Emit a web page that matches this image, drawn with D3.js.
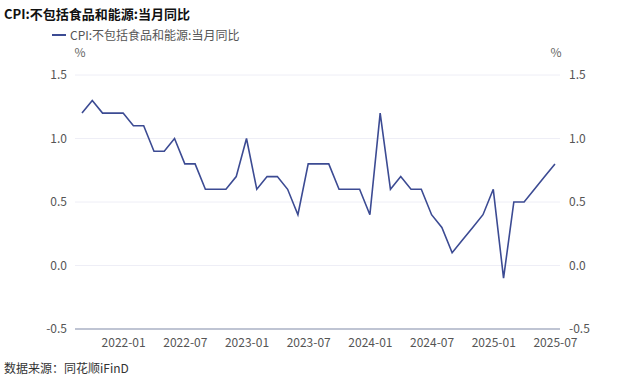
<!DOCTYPE html>
<html>
<head>
<meta charset="utf-8">
<script src="https://cdn.jsdelivr.net/npm/d3@7"></script>
<style>
  body { margin: 0; background: #fff; }
  text { font-family: "Noto Sans CJK SC", "Noto Sans", sans-serif; }
</style>
</head>
<body>
<div id="chart"></div>
<script>
const months = [
  '2021-09', '2021-10', '2021-11', '2021-12',
  '2022-01', '2022-02', '2022-03', '2022-04', '2022-05', '2022-06',
  '2022-07', '2022-08', '2022-09', '2022-10', '2022-11', '2022-12',
  '2023-01', '2023-02', '2023-03', '2023-04', '2023-05', '2023-06',
  '2023-07', '2023-08', '2023-09', '2023-10', '2023-11', '2023-12',
  '2024-01', '2024-02', '2024-03', '2024-04', '2024-05', '2024-06',
  '2024-07', '2024-08', '2024-09', '2024-10', '2024-11', '2024-12',
  '2025-01', '2025-02', '2025-03', '2025-04', '2025-05', '2025-06',
  '2025-07',
];
const values = [
  1.2, 1.3, 1.2, 1.2,
  1.2, 1.1, 1.1, 0.9, 0.9, 1.0,
  0.8, 0.8, 0.6, 0.6, 0.6, 0.7,
  1.0, 0.6, 0.7, 0.7, 0.6, 0.4,
  0.8, 0.8, 0.8, 0.6, 0.6, 0.6,
  0.4, 1.2, 0.6, 0.7, 0.6, 0.6,
  0.4, 0.3, 0.1, 0.2, 0.3, 0.4,
  0.6, -0.1, 0.5, 0.5, 0.6, 0.7,
  0.8,
];
const xTickLabels = ['2022-01', '2022-07', '2023-01', '2023-07', '2024-01', '2024-07', '2025-01', '2025-07'];
const yTicks = [-0.5, 0, 0.5, 1.0, 1.5];
const seriesName = 'CPI:不包括食品和能源:当月同比';

const width = 640;
const height = 387;
const plot = { left: 75, right: 560, top: 75, bottom: 329 };

const svg = d3.select('#chart').append('svg')
  .attr('width', width)
  .attr('height', height);

// month index scale, a little room before the first month and after the last
const x = d3.scaleLinear()
  .domain([-0.68, months.length - 1 + 0.49])
  .range([plot.left, plot.right]);

const y = d3.scaleLinear()
  .domain([-0.5, 1.5])
  .range([plot.bottom, plot.top]);

// gridlines
svg.append('g').selectAll('line')
  .data(yTicks.filter(d => d !== -0.5))
  .enter().append('line')
    .attr('x1', plot.left)
    .attr('x2', plot.right)
    .attr('y1', d => y(d))
    .attr('y2', d => y(d))
    .attr('stroke', '#eeeef6')
    .attr('stroke-width', 1);

// bottom axis line
svg.append('line')
  .attr('x1', plot.left)
  .attr('x2', plot.right)
  .attr('y1', y(-0.5))
  .attr('y2', y(-0.5))
  .attr('stroke', '#aab0c4')
  .attr('stroke-width', 1.5);

// plain hyphen for negatives, like the original
let fmt = d => d3.format('.1f')(d).replace('\u2212', '-');

let leftAxis = d3.axisLeft(y).tickValues(yTicks).tickFormat(fmt).tickSize(0).tickPadding(0);
svg.append('g')
  .attr('transform', `translate(${plot.left - 8},0)`)
  .call(leftAxis)
  .call(g => g.select('.domain').remove())
  .selectAll('text')
    .attr('fill', '#555')
    .style('font-size', '12px');

let rightAxis = d3.axisRight(y).tickValues(yTicks).tickFormat(fmt).tickSize(0).tickPadding(0);
svg.append('g')
  .attr('transform', `translate(${plot.right + 9},0)`)
  .call(rightAxis)
  .call(g => g.select('.domain').remove())
  .selectAll('text')
    .attr('fill', '#555')
    .style('font-size', '12px');

// x axis
let tickIdx = xTickLabels.map(l => months.indexOf(l));
let bottomAxis = d3.axisBottom(x)
  .tickValues(tickIdx)
  .tickFormat(i => months[i])
  .tickSize(0)
  .tickPadding(9);
svg.append('g')
  .attr('transform', `translate(0,${plot.bottom})`)
  .call(bottomAxis)
  .call(g => g.select('.domain').remove())
  .selectAll('text')
    .attr('fill', '#555')
    .style('font-size', '12px');

// unit labels
svg.append('text')
  .attr('x', 80).attr('y', 57)
  .attr('text-anchor', 'middle')
  .attr('fill', '#666')
  .style('font-size', '12px')
  .text('%');
svg.append('text')
  .attr('x', 556).attr('y', 57)
  .attr('text-anchor', 'middle')
  .attr('fill', '#666')
  .style('font-size', '12px')
  .text('%');

// the series
let line = d3.line()
  .x((d, i) => x(i))
  .y(d => y(d));

svg.append('path')
  .datum(values)
  .attr('fill', 'none')
  .attr('stroke', '#3c4b93')
  .attr('stroke-width', 1.6)
  .attr('stroke-linejoin', 'miter')
  .attr('d', line);

// title
svg.append('text')
  .attr('x', 4).attr('y', 19)
  .attr('fill', '#111')
  .style('font-size', '13px')
  .style('font-weight', 'bold')
  .text(seriesName);

// legend
svg.append('line')
  .attr('x1', 52).attr('x2', 66)
  .attr('y1', 35).attr('y2', 35)
  .attr('stroke', '#3c4b93')
  .attr('stroke-width', 2);
svg.append('text')
  .attr('x', 70).attr('y', 39.5)
  .attr('fill', '#555')
  .style('font-size', '12px')
  .text(seriesName);

// source
svg.append('text')
  .attr('x', 4).attr('y', 373)
  .attr('fill', '#333')
  .style('font-size', '12px')
  .text('数据来源：同花顺iFinD');
</script>
</body>
</html>
